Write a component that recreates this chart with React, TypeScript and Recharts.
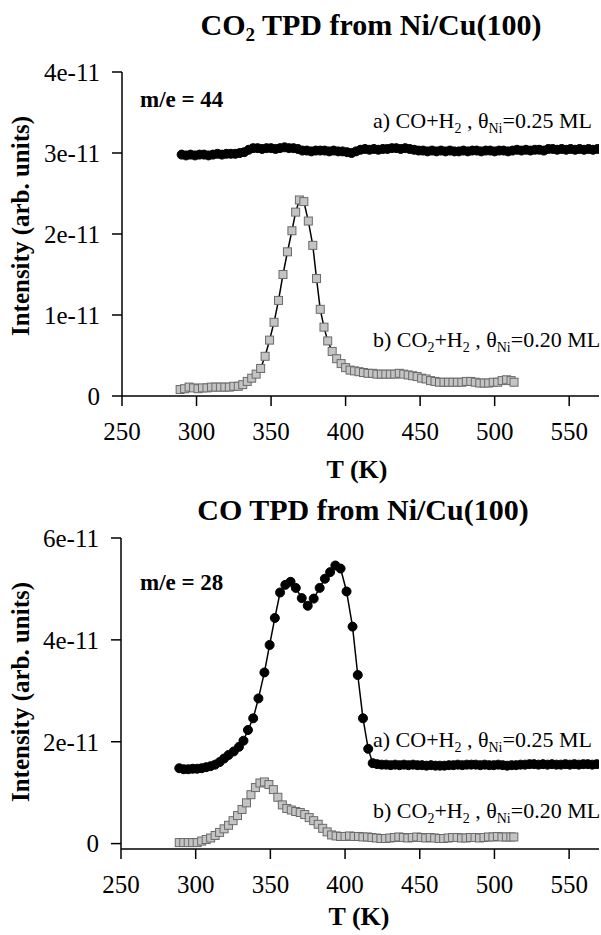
import React from 'react';
import { ComposedChart, Line, XAxis, YAxis } from 'recharts';

// ---------- data (intensity in units of 1e-11) ----------
const xTicks = [250, 300, 350, 400, 450, 500, 550];

const topYTicks = [0, 1, 2, 3, 4];
const topYTickLabels = ['0', '1e-11', '2e-11', '3e-11', '4e-11'];
const botYTicks = [0, 2, 4, 6];
const botYTickLabels = ['0', '2e-11', '4e-11', '6e-11'];

// Top (m/e = 44), series a: CO+H2, θNi = 0.25 ML
const topA_T = [290, 293, 296, 299, 302, 305, 308, 311, 314, 317, 320, 323, 326, 329, 332, 335, 338, 341, 344, 347, 350, 353, 356, 359, 362, 365, 368, 371, 374, 377, 380, 383, 386, 389, 392, 395, 398, 401, 404, 407, 410, 413, 416, 419, 422, 425, 428, 431, 434, 437, 440, 443, 446, 449, 452, 455, 458, 461, 464, 467, 470, 473, 476, 479, 482, 485, 488, 491, 494, 497, 500, 503, 506, 509, 512, 515, 518, 521, 524, 527, 530, 533, 536, 539, 542, 545, 548, 551, 554, 557, 560, 563, 566, 569];
const topA_I = [2.98, 2.97, 2.98, 2.97, 2.98, 2.98, 2.97, 2.98, 2.99, 2.98, 2.99, 2.99, 2.99, 3.0, 3.01, 3.04, 3.06, 3.06, 3.05, 3.06, 3.06, 3.05, 3.06, 3.07, 3.06, 3.06, 3.05, 3.03, 3.03, 3.02, 3.03, 3.03, 3.03, 3.02, 3.03, 3.02, 3.02, 3.01, 3.0, 3.02, 3.04, 3.05, 3.04, 3.05, 3.04, 3.05, 3.05, 3.06, 3.06, 3.05, 3.06, 3.05, 3.04, 3.03, 3.03, 3.02, 3.03, 3.02, 3.03, 3.02, 3.03, 3.02, 3.02, 3.03, 3.02, 3.03, 3.03, 3.02, 3.03, 3.03, 3.02, 3.03, 3.03, 3.02, 3.03, 3.04, 3.03, 3.04, 3.03, 3.04, 3.04, 3.03, 3.05, 3.05, 3.04, 3.05, 3.04, 3.05, 3.04, 3.05, 3.04, 3.05, 3.04, 3.05];

// Top (m/e = 44), series b: CO2+H2, θNi = 0.20 ML
const topB_T = [289, 292, 295, 298, 301, 304, 307, 310, 313, 316, 319, 322, 325, 328, 331, 334, 337, 340, 343, 346, 349, 352, 355, 358, 361, 364, 366.5, 369, 372, 375, 378, 380.5, 383, 385.5, 388, 391, 394, 397, 400, 403, 406, 409, 412, 415, 418, 421, 424, 427, 430, 433, 436, 439, 442, 445, 448, 451, 454, 457, 460, 463, 466, 469, 472, 475, 478, 481, 484, 487, 490, 493, 496, 499, 502, 505, 508, 511, 513];
const topB_I = [0.08, 0.09, 0.11, 0.1, 0.09, 0.1, 0.1, 0.11, 0.11, 0.11, 0.11, 0.11, 0.12, 0.12, 0.14, 0.18, 0.22, 0.27, 0.34, 0.49, 0.69, 0.91, 1.18, 1.5, 1.78, 2.04, 2.27, 2.42, 2.4, 2.16, 1.86, 1.45, 1.07, 0.85, 0.68, 0.55, 0.46, 0.4, 0.35, 0.32, 0.31, 0.3, 0.29, 0.28, 0.28, 0.27, 0.27, 0.27, 0.27, 0.27, 0.28, 0.27, 0.26, 0.25, 0.24, 0.22, 0.21, 0.19, 0.18, 0.17, 0.17, 0.17, 0.17, 0.17, 0.17, 0.18, 0.18, 0.17, 0.16, 0.16, 0.16, 0.17, 0.17, 0.19, 0.2, 0.19, 0.17];

// Bottom (m/e = 28), series a: CO+H2, θNi = 0.25 ML
const botA_T = [289, 292, 295, 298, 301, 304, 307, 310, 313, 316, 319, 322, 325.5, 329, 332, 335, 338.5, 342, 346, 349.5, 353, 356.5, 360, 363.5, 367, 371, 375, 379, 383, 386.5, 390, 393.5, 397, 401, 405, 408.5, 412, 415.5, 418.5, 421.5, 424.5, 427.5, 430.5, 433.5, 436.5, 439.5, 442.5, 445.5, 448.5, 451.5, 454.5, 457.5, 460.5, 463.5, 466.5, 469.5, 472.5, 475.5, 478.5, 481.5, 484.5, 487.5, 490.5, 493.5, 496.5, 499.5, 502.5, 505.5, 508.5, 511.5, 514.5, 517.5, 520.5, 523.5, 526.5, 529.5, 532.5, 535.5, 538.5, 541.5, 544.5, 547.5, 550.5, 553.5, 556.5, 559.5, 562.5, 565.5, 568.5];
const botA_I = [1.48, 1.46, 1.46, 1.47, 1.47, 1.48, 1.5, 1.52, 1.55, 1.6, 1.67, 1.74, 1.81, 1.9, 2.02, 2.23, 2.46, 2.85, 3.36, 3.9, 4.43, 4.93, 5.08, 5.14, 5.02, 4.82, 4.67, 4.81, 5.02, 5.2, 5.33, 5.46, 5.4, 4.95, 4.26, 3.31, 2.46, 1.86, 1.58, 1.56, 1.55, 1.55, 1.54, 1.55, 1.54, 1.55, 1.54, 1.55, 1.54, 1.54, 1.53, 1.54, 1.53, 1.53, 1.53, 1.54, 1.54, 1.55, 1.54, 1.55, 1.55, 1.55, 1.54, 1.55, 1.54, 1.54, 1.55, 1.54, 1.53, 1.54, 1.54, 1.55, 1.55, 1.56, 1.56, 1.55, 1.56, 1.55, 1.56, 1.55, 1.55, 1.56, 1.55, 1.56, 1.55, 1.56, 1.56, 1.55, 1.56];

// Bottom (m/e = 28), series b: CO2+H2, θNi = 0.20 ML
const botB_T = [289, 292, 295, 298, 301, 304, 307, 310, 313, 316, 319, 322, 325, 328, 331, 334, 337, 340, 343, 346, 349, 352, 355, 358, 361, 364, 367, 370, 373, 376, 379, 382, 385, 388, 391, 394, 397, 400, 403, 406, 409, 412, 415, 418, 421, 424, 427, 430, 433, 436, 439, 442, 445, 448, 451, 454, 457, 460, 463, 466, 469, 472, 475, 478, 481, 484, 487, 490, 493, 496, 499, 502, 505, 508, 511, 513];
const botB_I = [0.02, 0.02, 0.02, 0.02, 0.02, 0.05, 0.08, 0.11, 0.16, 0.22, 0.29, 0.36, 0.45, 0.55, 0.67, 0.8, 0.96, 1.1, 1.19, 1.21, 1.16, 1.06, 0.91, 0.76, 0.69, 0.66, 0.63, 0.61, 0.57, 0.51, 0.45, 0.38, 0.3, 0.23, 0.17, 0.15, 0.14, 0.14, 0.15, 0.14, 0.14, 0.13, 0.13, 0.12, 0.11, 0.1, 0.1, 0.11, 0.12, 0.13, 0.12, 0.11, 0.12, 0.13, 0.12, 0.11, 0.12, 0.11, 0.1, 0.1, 0.11, 0.12, 0.12, 0.11, 0.11, 0.12, 0.12, 0.11, 0.12, 0.13, 0.13, 0.14, 0.13, 0.13, 0.13, 0.13];

const toRows = (T: number[], I: number[]) => T.map((t, i) => ({ T: t, I: I[i] }));

const topA = toRows(topA_T, topA_I);
const topB = toRows(topB_T, topB_I);
const botA = toRows(botA_T, botA_I);
const botB = toRows(botB_T, botB_I);

// ---------- styling ----------
const SERIF = "'Liberation Serif', 'Times New Roman', 'DejaVu Serif', serif";
const tickStyle = { fontSize: 25, fill: '#000', fontFamily: SERIF };
const axisLineStyle = { stroke: '#000', strokeWidth: 1.5 };

const SquareDot = (props: any) => {
  const { cx, cy, index } = props;
  if (cx == null || cy == null) return <g key={`sq-${index}`} />;
  return (
    <rect
      key={`sq-${index}`}
      x={cx - 4}
      y={cy - 4}
      width={8}
      height={8}
      fill="#c4c4c4"
      stroke="#6a6a6a"
      strokeWidth={1}
    />
  );
};

const makeFormatter = (ticks: number[], labels: string[]) => (v: number) => {
  const i = ticks.indexOf(v);
  return i >= 0 ? labels[i] : String(v);
};

type PanelProps = {
  a: { T: number; I: number }[];
  b: { T: number; I: number }[];
  yDomain: [number, number];
  yTicks: number[];
  yLabels: string[];
  height: number;
  top: number;
  yAxisWidth: number;
  xAxisHeight: number;
  bLine: string;
};

const Panel = ({ a, b, yDomain, yTicks, yLabels, height, top, yAxisWidth, xAxisHeight, bLine }: PanelProps) => (
  <ComposedChart
    width={601}
    height={height}
    margin={{ top, right: 2, left: 0, bottom: 0 }}
  >
    <XAxis
      xAxisId="main"
      type="number"
      dataKey="T"
      domain={[250, 570]}
      ticks={xTicks}
      allowDataOverflow
      height={xAxisHeight}
      tickSize={10}
      tickMargin={16}
      tick={tickStyle}
      axisLine={axisLineStyle}
      tickLine={axisLineStyle}
    />
    <XAxis
      xAxisId="frame"
      orientation="top"
      type="number"
      domain={[250, 570]}
      height={0}
      tick={false}
      tickLine={false}
      axisLine={axisLineStyle}
    />
    <YAxis
      yAxisId="main"
      type="number"
      domain={yDomain}
      ticks={yTicks}
      allowDataOverflow
      width={yAxisWidth}
      tickSize={10}
      tickMargin={12}
      tick={tickStyle}
      tickFormatter={makeFormatter(yTicks, yLabels)}
      axisLine={axisLineStyle}
      tickLine={axisLineStyle}
    />
    <YAxis
      yAxisId="frame"
      orientation="right"
      type="number"
      domain={yDomain}
      width={0}
      tick={false}
      tickLine={false}
      axisLine={axisLineStyle}
    />
    <Line
      xAxisId="main"
      yAxisId="main"
      data={b}
      dataKey="I"
      type="linear"
      stroke={bLine}
      strokeWidth={1.5}
      dot={SquareDot}
      activeDot={false}
      isAnimationActive={false}
    />
    <Line
      xAxisId="main"
      yAxisId="main"
      data={a}
      dataKey="I"
      type="linear"
      stroke="#000"
      strokeWidth={1.5}
      dot={{ r: 4.5, fill: '#000', stroke: '#000', strokeWidth: 1 }}
      activeDot={false}
      isAnimationActive={false}
    />
  </ComposedChart>
);

const Annotation = ({ x, y, label, co2, theta }: { x: number; y: number; label: string; co2: boolean; theta: string }) => (
  <text x={x} y={y} fontSize={22} fontFamily={SERIF} fill="#000">
    {label} CO
    {co2 ? (
      <>
        <tspan fontSize={14} dy={5}>2</tspan>
        <tspan dy={-5}>+H</tspan>
      </>
    ) : (
      <tspan>+H</tspan>
    )}
    <tspan fontSize={14} dy={5}>2</tspan>
    <tspan dy={-5}> , θ</tspan>
    <tspan fontSize={14} dy={5}>Ni</tspan>
    <tspan dy={-5}>={theta} ML</tspan>
  </text>
);

export default function App() {
  return (
    <div style={{ position: 'absolute', left: 0, top: 0, width: 601, height: 935, background: '#fff' }}>
      <div style={{ position: 'absolute', left: 0, top: 0 }}>
        <Panel
          a={topA}
          b={topB}
          yDomain={[0, 4]}
          yTicks={topYTicks}
          yLabels={topYTickLabels}
          height={470}
          top={72}
          yAxisWidth={122}
          xAxisHeight={74}
          bLine="#000"
        />
      </div>
      <div style={{ position: 'absolute', left: 0, top: 470 }}>
        <Panel
          a={botA}
          b={botB}
          yDomain={[-0.106, 6]}
          yTicks={botYTicks}
          yLabels={botYTickLabels}
          height={465}
          top={68}
          yAxisWidth={121}
          xAxisHeight={86}
          bLine="#5a5a5a"
        />
      </div>
      <svg
        width={601}
        height={935}
        style={{ position: 'absolute', left: 0, top: 0, pointerEvents: 'none' }}
      >
        {/* Titles */}
        <text x={371} y={35} textAnchor="middle" fontSize={30} fontWeight="bold" fontFamily={SERIF} fill="#000">
          CO<tspan fontSize={19} dy={6}>2</tspan>
          <tspan dy={-6}> TPD from Ni/Cu(100)</tspan>
        </text>
        <text x={363} y={520} textAnchor="middle" fontSize={30} fontWeight="bold" fontFamily={SERIF} fill="#000">
          CO TPD from Ni/Cu(100)
        </text>

        {/* m/e labels */}
        <text x={140} y={107} fontSize={23} fontWeight="bold" fontFamily={SERIF} fill="#000">m/e = 44</text>
        <text x={140} y={590} fontSize={23} fontWeight="bold" fontFamily={SERIF} fill="#000">m/e = 28</text>

        {/* Series annotations */}
        <Annotation x={373} y={128} label="a)" co2={false} theta="0.25" />
        <Annotation x={373} y={347} label="b)" co2={true} theta="0.20" />
        <Annotation x={373} y={747} label="a)" co2={false} theta="0.25" />
        <Annotation x={373} y={818} label="b)" co2={true} theta="0.20" />

        {/* Axis titles */}
        <text x={357} y={478} textAnchor="middle" fontSize={26} fontWeight="bold" fontFamily={SERIF} fill="#000">T (K)</text>
        <text x={359} y={925} textAnchor="middle" fontSize={26} fontWeight="bold" fontFamily={SERIF} fill="#000">T (K)</text>
        <text
          x={0}
          y={0}
          transform="translate(29,226) rotate(-90)"
          textAnchor="middle"
          fontSize={25}
          fontWeight="bold"
          fontFamily={SERIF}
          fill="#000"
        >
          Intensity (arb. units)
        </text>
        <text
          x={0}
          y={0}
          transform="translate(29,692) rotate(-90)"
          textAnchor="middle"
          fontSize={25}
          fontWeight="bold"
          fontFamily={SERIF}
          fill="#000"
        >
          Intensity (arb. units)
        </text>
      </svg>
    </div>
  );
}
